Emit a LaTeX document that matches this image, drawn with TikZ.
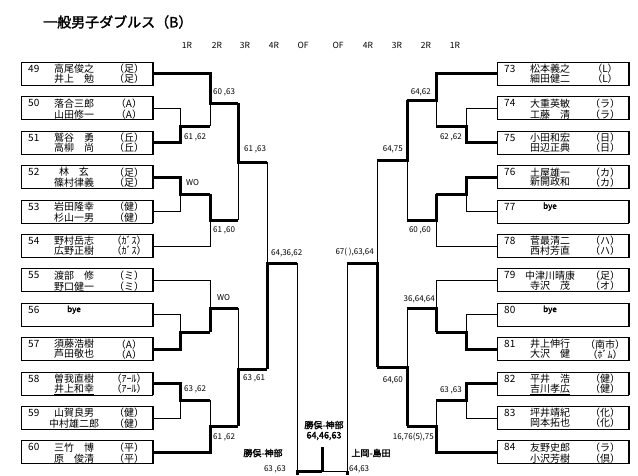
\documentclass[tikz,border=0pt]{standalone}
\usepackage{fontspec}
\setmainfont{Noto Sans CJK JP}[AutoFakeBold=2]
\newcommand\rowtwo[2]{\ifnum#1=1 \underline{#2}\else #2\fi}
\tikzset{
	win/.style={line width=3pt},
	lose/.style={line width=0.8pt},
	pair/.style={draw, line width=0.8pt, minimum width=131pt, minimum height=23pt, anchor=north west, inner sep=0pt},
	txt/.style={inner sep=0pt, font=\fontsize{10}{12}\selectfont},
	score/.style={inner sep=0pt, font=\fontsize{8}{9}\selectfont},
	rnd/.style={inner sep=0pt, font=\fontsize{8.5}{9}\selectfont},
	fin/.style={inner sep=0pt, font=\fontsize{9}{10}\selectfont\bfseries}
}
\begin{document}
\begin{tikzpicture}[x=1pt, y=-1pt]
	\useasboundingbox (0,0) rectangle (638,475);
	\node[inner sep=0pt, anchor=west, font=\fontsize{14}{16}\selectfont\bfseries] (title) at (43,22) {一般男子ダブルス（B）};
	\foreach \t/\x [count=\c] in {1R/187,2R/217,3R/245,4R/274,OF/303,OF/338,4R/368,3R/397,2R/426,1R/455}
		\node[rnd] (h\c) at (\x,45) {\t};
	\foreach \bx/\k/\n/\na/\aa/\u/\nb/\ab [evaluate=\k as \ty using 62+34.4*\k] in {
		21/0/49/高尾俊之/（足）/1/井上　勉/（足）,
		21/1/50/落合三郎/（A）/0/山田修一/（A）,
		21/2/51/鷲谷　勇/（丘）/1/高柳　尚/（丘）,
		21/3/52/林　玄/（足）/1/篠村律義/（足）,
		21/4/53/岩田隆幸/（健）/0/杉山一男/（健）,
		21/5/54/野村岳志/（ｶﾞｽ）/1/広野正樹/（ｶﾞｽ）,
		21/6/55/渡部　修/（ミ）/0/野口健一/（ミ）,
		21/7/56/{\fontsize{8}{9}\selectfont\bfseries bye}/{}/0/{}/{},
		21/8/57/須藤浩樹/（A）/1/芦田敬也/（A）,
		21/9/58/曽我直樹/（ｱｰﾙ）/1/井上和幸/（ｱｰﾙ）,
		21/10/59/山賀良男/（健）/0/中村雄二郎/（健）,
		21/11/60/三竹　博/（平）/0/原　俊清/（平）,
		497/0/73/松本義之/（L）/1/細田健二/（L）,
		497/1/74/大重英敏/（ラ）/0/工藤　清/（ラ）,
		497/2/75/小田和宏/（日）/1/田辺正典/（日）,
		497/3/76/土屋雄一/（カ）/1/新開政和/（カ）,
		497/4/77/{\fontsize{8}{9}\selectfont\bfseries bye}/{}/0/{}/{},
		497/5/78/菅最清二/（ハ）/1/西村芳直/（ハ）,
		497/6/79/中津川晴康/（足）/1/寺沢　茂/（オ）,
		497/7/80/{\fontsize{8}{9}\selectfont\bfseries bye}/{}/0/{}/{},
		497/8/81/井上伸行/（南市）/1/大沢　健/（ﾎﾞﾑ）,
		497/9/82/平井　浩/（健）/1/吉川孝広/（健）,
		497/10/83/坪井靖紀/（化）/1/岡本拓也/（化）,
		497/11/84/友野史郎/（ラ）/0/小沢芳樹/（倶）} {
		\node[pair] (p\n) at (\bx,\ty) {};
		\draw[line width=2pt] (p\n.north east) -- (p\n.south east);
		\node[txt, anchor=west] (q\n) at ([shift={(7,7)}]p\n.north west) {\n};
		\node[txt] (a\n) at ([shift={(53,7)}]p\n.north west) {\na};
		\node[txt] (b\n) at ([shift={(108,7)}]p\n.north west) {\aa};
		\node[txt] (c\n) at ([shift={(53,18)}]p\n.north west) {\rowtwo{\u}{\nb}};
		\node[txt] (d\n) at ([shift={(108,18)}]p\n.north west) {\rowtwo{\u}{\ab}};
	}
	\coordinate (j1a) at (180,126);
	\coordinate (j1b) at (180,194);
	\coordinate (j1c) at (180,332);
	\coordinate (j1d) at (180,400);
	\coordinate (j2a) at (210,103);
	\coordinate (j2b) at (210,220);
	\coordinate (j2c) at (210,308);
	\coordinate (j2d) at (210,426);
	\coordinate (j3a) at (238,162);
	\coordinate (j3b) at (238,369);
	\coordinate (j4a) at (267,263);
	\coordinate (ofl) at (297,263);
	\coordinate (k1a) at (466,126);
	\coordinate (k1b) at (466,194);
	\coordinate (k1c) at (466,332);
	\coordinate (k1d) at (466,400);
	\coordinate (k2a) at (436,100);
	\coordinate (k2b) at (436,220);
	\coordinate (k2c) at (436,308);
	\coordinate (k2d) at (436,426);
	\coordinate (k3a) at (407,160);
	\coordinate (k3b) at (407,367);
	\coordinate (k4a) at (377,263);
	\coordinate (ofr) at (347,263);
	\coordinate (fl) at (297,471);
	\coordinate (fc) at (322,471);
	\coordinate (fr) at (347,471);
	\coordinate (ft) at (322,447);
	\coordinate (fl2) at (297,475);
	\coordinate (fr2) at (347,475);
	\draw[lose] (p50.east) -| (j1a);
	\draw[win] (p51.east) -| (j1a) -- (j1a -| j2a);
	\draw[lose] (p53.east) -| (j1b);
	\draw[win] (p52.east) -| (j1b) -- (j1b -| j2a);
	\draw[lose] (p56.east) -| (j1c);
	\draw[win] (p57.east) -| (j1c) -- (j1c -| j2a);
	\draw[lose] (p59.east) -| (j1d);
	\draw[win] (p58.east) -| (j1d) -- (j1d -| j2a);
	\draw[lose] (j1a -| j2a) -- (j2a);
	\draw[win] (p49.east) -| (j2a) -- (j2a -| j3a);
	\draw[lose] (p54.east) -| (j2b);
	\draw[win] (j1b -| j2b) -- (j2b) -- (j2b -| j3a);
	\draw[lose] (p55.east) -| (j2c);
	\draw[win] (j1c -| j2c) -- (j2c) -- (j2c -| j3a);
	\draw[lose] (j1d -| j2d) -- (j2d);
	\draw[win] (p60.east) -| (j2d) -- (j2d -| j3a);
	\draw[lose] (j2b -| j3a) -- (j3a);
	\draw[win] (j2a -| j3a) -- (j3a) -- (j3a -| j4a);
	\draw[lose] (j2c -| j3b) -- (j3b);
	\draw[win] (j2d -| j3b) -- (j3b) -- (j3b -| j4a);
	\draw[lose] (j3a -| j4a) -- (j4a);
	\draw[win] (j3b -| j4a) -- (j4a) -- (ofl);
	\draw[lose] (p74.west) -| (k1a);
	\draw[win] (p75.west) -| (k1a) -- (k1a -| k2a);
	\draw[lose] (p77.west) -| (k1b);
	\draw[win] (p76.west) -| (k1b) -- (k1b -| k2a);
	\draw[lose] (p80.west) -| (k1c);
	\draw[win] (p81.west) -| (k1c) -- (k1c -| k2a);
	\draw[lose] (p83.west) -| (k1d);
	\draw[win] (p82.west) -| (k1d) -- (k1d -| k2a);
	\draw[lose] (k1a -| k2a) -- (k2a);
	\draw[win] (p73.west) -| (k2a) -- (k2a -| k3a);
	\draw[lose] (p78.west) -| (k2b);
	\draw[win] (k1b -| k2b) -- (k2b) -- (k2b -| k3a);
	\draw[lose] (p79.west) -| (k2c);
	\draw[win] (k1c -| k2c) -- (k2c) -- (k2c -| k3a);
	\draw[lose] (k1d -| k2d) -- (k2d);
	\draw[win] (p84.west) -| (k2d) -- (k2d -| k3a);
	\draw[lose] (k2b -| k3a) -- (k3a);
	\draw[win] (k2a -| k3a) -- (k3a) -- (k3a -| k4a);
	\draw[lose] (k2c -| k3b) -- (k3b);
	\draw[win] (k2d -| k3b) -- (k3b) -- (k3b -| k4a);
	\draw[lose] (k3a -| k4a) -- (k4a);
	\draw[win] (k3b -| k4a) -- (k4a) -- (ofr);
	\draw[lose] (ofl) -- (fl);
	\draw[lose] (ofr) -- (fr);
	\draw[lose] (fc) -- (fr);
	\draw[win] (fl2) -- (fl) -- (fc);
	\draw[win] (fc) -- (ft);
	\draw[win] (fr) -- (fr2);
	\node[score, anchor=west] (s1) at (184,137) {61 ,62};
	\node[score, anchor=west] (s2) at (186,183) {WO};
	\node[score, anchor=west] (s3) at (184,389) {63 ,62};
	\node[score, anchor=west] (s4) at (213,92) {60 ,63};
	\node[score, anchor=west] (s5) at (213,230) {61 ,60};
	\node[score, anchor=west] (s6) at (217,298) {WO};
	\node[score, anchor=west] (s7) at (213,437) {61 ,62};
	\node[score, anchor=west] (s8) at (244,149) {61 ,63};
	\node[score, anchor=west] (s9) at (243,378) {63 ,61};
	\node[score, anchor=west] (s10) at (271,253) {64,36,62};
	\node[score, anchor=east] (t1) at (462,137) {62 ,62};
	\node[score, anchor=east] (t2) at (431,92) {64,62};
	\node[score, anchor=east] (t3) at (431,230) {60 ,60};
	\node[score, anchor=east] (t4) at (435,299) {36,64,64};
	\node[score, anchor=east] (t5) at (462,390) {63 ,63};
	\node[score, anchor=east] (t6) at (434,437) {16,76(5),75};
	\node[score, anchor=east] (t7) at (403,149) {64,75};
	\node[score, anchor=east] (t8) at (403,380) {64,60};
	\node[score, anchor=east] (t9) at (374,252) {67( ),63,64};
	\node[fin] (w0) at (324,425) {勝俣-神部};
	\node[fin] (w1) at (324,436) {64,46,63};
	\node[fin] (w2) at (263,453) {勝俣-神部};
	\node[score, anchor=east] (w3) at (286,469) {63 ,63};
	\node[fin] (w4) at (371,453) {上岡-島田};
	\node[score, anchor=west] (w5) at (349,469) {64,63};
\end{tikzpicture}
\end{document}
